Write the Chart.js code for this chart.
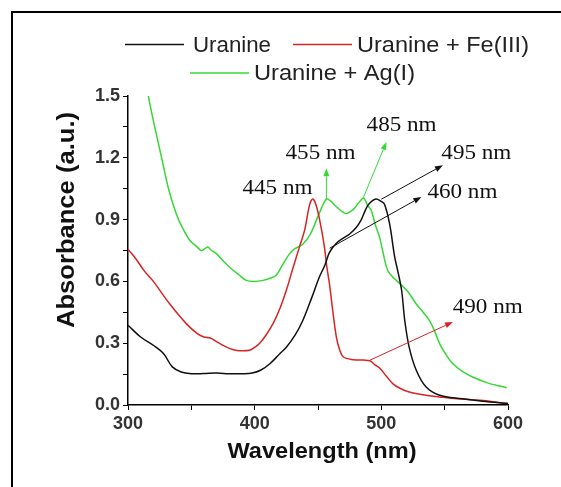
<!DOCTYPE html>
<html lang="en">
<head>
    <meta charset="UTF-8">
    <title>Absorbance spectra</title>
    <script src="https://cdn.jsdelivr.net/npm/chart.js"></script>
    <style>
        html, body { margin: 0; padding: 0; background: #fff; }
        #wrap { width: 561px; height: 487px; }
    </style>
</head>
<body>
<div id="wrap"><canvas id="specChart" width="561" height="487"></canvas></div>
<script>
// wavelengths (nm) and absorbance (a.u.)
const wlUranine = [300, 310, 320, 328, 335, 342, 350, 360, 370, 380, 390, 398, 405, 412, 420, 425, 432, 438, 445, 451, 455.5, 459, 464.5, 470, 475, 480, 484, 487, 489.5, 492.5, 496, 499.5, 502.5, 506.5, 510.5, 513, 516, 518.5, 522, 527.5, 535, 546, 564, 580, 600];
const absUranine = [0.387, 0.33, 0.29, 0.25, 0.185, 0.16, 0.152, 0.153, 0.155, 0.152, 0.152, 0.155, 0.17, 0.2, 0.25, 0.28, 0.34, 0.41, 0.52, 0.62, 0.68, 0.74, 0.785, 0.81, 0.83, 0.86, 0.897, 0.94, 0.97, 0.99, 1.0, 0.99, 0.975, 0.88, 0.72, 0.65, 0.557, 0.41, 0.28, 0.17, 0.09, 0.047, 0.03, 0.018, 0.007];

const wlFe = [300, 305, 313, 320, 333, 346, 355, 360, 365, 372, 380, 386, 396, 400, 404, 409, 414.5, 420, 425, 430, 435.5, 439.5, 443.5, 446, 449, 452.5, 455, 457, 459, 462, 464.5, 467, 470, 478, 486, 491, 495, 499, 504, 509, 515, 522, 534, 546, 560, 578, 600];
const absFe = [0.755, 0.72, 0.65, 0.6, 0.49, 0.395, 0.345, 0.33, 0.325, 0.3, 0.275, 0.265, 0.266, 0.28, 0.3, 0.34, 0.395, 0.47, 0.557, 0.66, 0.77, 0.85, 0.975, 1.0, 0.96, 0.86, 0.77, 0.67, 0.59, 0.44, 0.33, 0.27, 0.233, 0.22, 0.218, 0.215, 0.195, 0.177, 0.14, 0.104, 0.08, 0.063, 0.048, 0.039, 0.03, 0.023, 0.007];

const wlAg = [316, 320, 324, 327.6, 332, 338, 343, 348.7, 354, 358, 361, 363, 366, 369.8, 375, 380, 387, 393.4, 400, 406.5, 412, 417, 422, 427.6, 432, 438, 444, 451, 456.6, 460, 465, 472, 478, 482, 486, 489, 492, 495, 498.6, 501, 505, 510, 514.5, 521, 527.6, 533, 538, 542, 546, 551, 556.5, 564, 572, 585, 599];
const absAg = [1.5, 1.38, 1.27, 1.17, 1.05, 0.93, 0.86, 0.8, 0.77, 0.75, 0.76, 0.767, 0.75, 0.735, 0.7, 0.67, 0.635, 0.605, 0.6, 0.605, 0.615, 0.63, 0.68, 0.735, 0.76, 0.78, 0.83, 0.93, 1.0, 0.99, 0.96, 0.93, 0.95, 0.98, 1.005, 0.97, 0.945, 0.88, 0.815, 0.75, 0.654, 0.615, 0.59, 0.55, 0.49, 0.45, 0.41, 0.36, 0.298, 0.245, 0.2, 0.163, 0.136, 0.105, 0.084];

const seriesNames = ["Uranine", "Uranine + Fe(III)", "Uranine + Ag(I)"];
const xTicks = [300, 400, 500, 600];
const yTicks = [0.0, 0.3, 0.6, 0.9, 1.2, 1.5];

// peak labels: text, label centre, arrow start, arrow end (data units)
const peakText = ["445 nm", "455 nm", "485 nm", "495 nm", "460 nm", "490 nm"];
const peakLabelAt = [[418, 1.053], [452, 1.222], [516, 1.358], [575, 1.222], [564, 1.032], [584, 0.474]];
const peakArrowFrom = [null, [456.6, 0.994], [485.5, 1.002], [500, 0.999], [459.2, 0.761], [490.8, 0.217]];
const peakArrowTo = [null, [456.6, 1.149], [504, 1.277], [548.6, 1.164], [531.6, 1.01], [556.5, 0.403]];
const peakSeries = [1, 2, 2, 0, 0, 1];

const colors = ["#111111", "#d82424", "#36d836"];

function pts(xs, ys) {
    return xs.map((x, i) => ({ x: x, y: ys[i] }));
}

function stretchText(ctx, text, x, y, width, align) {
    const w = ctx.measureText(text).width;
    ctx.save();
    ctx.translate(x, y);
    ctx.scale(width / w, 1);
    ctx.textAlign = align;
    ctx.fillText(text, 0, 0);
    ctx.restore();
}

function arrow(ctx, x1, y1, x2, y2, color) {
    const a = Math.atan2(y2 - y1, x2 - x1);
    const len = 8, half = 3;
    ctx.save();
    ctx.strokeStyle = color;
    ctx.fillStyle = color;
    ctx.lineWidth = 1;
    ctx.beginPath();
    ctx.moveTo(x1, y1);
    ctx.lineTo(x2 - len * Math.cos(a), y2 - len * Math.sin(a));
    ctx.stroke();
    ctx.beginPath();
    ctx.moveTo(x2, y2);
    ctx.lineTo(x2 - len * Math.cos(a) + half * Math.sin(a), y2 - len * Math.sin(a) - half * Math.cos(a));
    ctx.lineTo(x2 - len * Math.cos(a) - half * Math.sin(a), y2 - len * Math.sin(a) + half * Math.cos(a));
    ctx.closePath();
    ctx.fill();
    ctx.restore();
}

const decor = {
    id: "decor",
    beforeDraw(chart) {
        const ctx = chart.ctx;
        ctx.save();
        ctx.fillStyle = "#fff";
        ctx.fillRect(0, 0, chart.width, chart.height);
        // outer frame (only top and left edges are in the picture)
        ctx.strokeStyle = "#000";
        ctx.lineWidth = 2;
        ctx.beginPath();
        ctx.moveTo(12, chart.height);
        ctx.lineTo(12, 12);
        ctx.lineTo(chart.width, 12);
        ctx.stroke();
        ctx.restore();
    },
    afterDraw(chart) {
        const ctx = chart.ctx;
        const xs = chart.scales.x, ys = chart.scales.y;
        const ds = chart.data.datasets;
        ctx.save();

        // legend
        const rows = [
            { i: 0, line: [125, 184], textX: 193, textW: 78, y: 44.5 },
            { i: 1, line: [293, 352], textX: 357, textW: 172, y: 44.5 },
            { i: 2, line: [190, 249], textX: 254, textW: 161, y: 73 }
        ];
        ctx.font = "22px 'Liberation Sans', Arial, sans-serif";
        ctx.textBaseline = "middle";
        rows.forEach(r => {
            ctx.strokeStyle = ds[r.i].borderColor;
            ctx.lineWidth = 1.5;
            ctx.beginPath();
            ctx.moveTo(r.line[0], r.y);
            ctx.lineTo(r.line[1], r.y);
            ctx.stroke();
            ctx.fillStyle = "#222";
            stretchText(ctx, ds[r.i].label, r.textX, r.y + 1, r.textW, "left");
        });

        // axis titles
        ctx.fillStyle = "#111";
        ctx.font = "bold 22px 'Liberation Sans', Arial, sans-serif";
        stretchText(ctx, "Wavelength (nm)", 322, 452, 189, "center");
        ctx.save();
        ctx.translate(67.5, 220);
        ctx.rotate(-Math.PI / 2);
        ctx.font = "bold 24px 'Liberation Sans', Arial, sans-serif";
        stretchText(ctx, "Absorbance (a.u.)", 0, 0, 216, "center");
        ctx.restore();

        // peak annotations
        peakText.forEach((t, k) => {
            const c = colors[peakSeries[k]];
            if (peakArrowFrom[k]) {
                arrow(ctx,
                    xs.getPixelForValue(peakArrowFrom[k][0]), ys.getPixelForValue(peakArrowFrom[k][1]),
                    xs.getPixelForValue(peakArrowTo[k][0]), ys.getPixelForValue(peakArrowTo[k][1]), c);
            }
            ctx.fillStyle = "#111";
            ctx.font = "21px 'Liberation Serif', 'Times New Roman', serif";
            ctx.textBaseline = "middle";
            stretchText(ctx, t, xs.getPixelForValue(peakLabelAt[k][0]), ys.getPixelForValue(peakLabelAt[k][1]), 70, "center");
        });
        ctx.restore();
    }
};

new Chart(document.getElementById("specChart"), {
    type: "line",
    data: {
        datasets: [
            { label: seriesNames[0], data: pts(wlUranine, absUranine), borderColor: colors[0] },
            { label: seriesNames[1], data: pts(wlFe, absFe), borderColor: colors[1] },
            { label: seriesNames[2], data: pts(wlAg, absAg), borderColor: colors[2] }
        ]
    },
    options: {
        responsive: false,
        animation: false,
        devicePixelRatio: 1,
        layout: { padding: { left: 0, top: 96, right: 53, bottom: 0 } },
        elements: {
            point: { radius: 0 },
            line: { borderWidth: 1.5, tension: 0.35, fill: false }
        },
        plugins: { legend: { display: false }, tooltip: { enabled: false } },
        scales: {
            x: {
                type: "linear",
                min: 300, max: 600,
                afterFit: s => { s.height = 82; },
                border: { display: true, color: "#000", width: 1.5 },
                grid: { drawOnChartArea: false, drawTicks: true, tickLength: 5, color: "#000", lineWidth: 1 },
                ticks: {
                    stepSize: 50,
                    padding: 3,
                    color: "#333",
                    font: { family: "'Liberation Sans', Arial, sans-serif", size: 18, weight: "bold" },
                    callback: v => xTicks.includes(v) ? String(v) : ""
                }
            },
            y: {
                min: 0, max: 1.5,
                afterFit: s => { s.width = 128; },
                border: { display: true, color: "#000", width: 1.5 },
                grid: { drawOnChartArea: false, drawTicks: true, tickLength: 5, color: "#000", lineWidth: 1 },
                ticks: {
                    stepSize: 0.15,
                    padding: 3,
                    color: "#333",
                    font: { family: "'Liberation Sans', Arial, sans-serif", size: 18, weight: "bold" },
                    callback: v => {
                        const hit = yTicks.find(t => Math.abs(t - v) < 1e-6);
                        return hit === undefined ? "" : hit.toFixed(1);
                    }
                }
            }
        }
    },
    plugins: [decor]
});
</script>
</body>
</html>
